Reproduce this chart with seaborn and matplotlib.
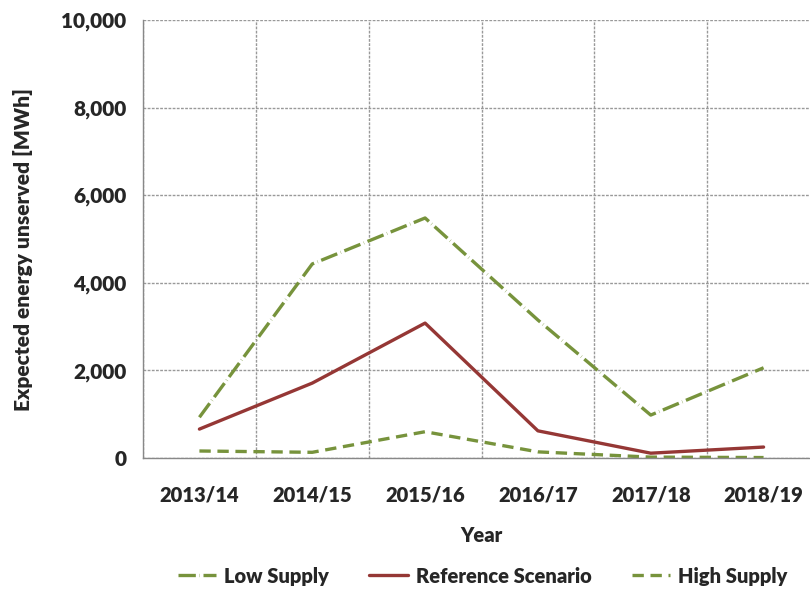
import seaborn as sns
import matplotlib.pyplot as plt
import pandas as pd
from matplotlib.ticker import FuncFormatter, MultipleLocator, FixedLocator

years = ['2013/14', '2014/15', '2015/16', '2016/17', '2017/18', '2018/19']
low_supply = [930, 4430, 5480, 3150, 980, 2060]
reference = [660, 1710, 3080, 620, 110, 250]
high_supply = [160, 130, 600, 140, 20, 10]

series = ['Low Supply', 'Reference Scenario', 'High Supply']
warna = {'Low Supply': '#77933C', 'Reference Scenario': '#953735', 'High Supply': '#77933C'}
garis = {'Low Supply': (5.2, 1.1, 0.1, 1.1), 'Reference Scenario': '', 'High Supply': (3.4, 2.0)}

df = pd.DataFrame({
    'Year': years * 3,
    'Value': low_supply + reference + high_supply,
    'Series': ['Low Supply'] * 6 + ['Reference Scenario'] * 6 + ['High Supply'] * 6,
})

sns.set_style('white')
plt.rcParams['font.family'] = ['Lato', 'DejaVu Sans']
plt.rcParams['font.weight'] = 'heavy'

fig = plt.figure(figsize=(8.1, 5.89), dpi=100)
ax = fig.add_axes([143/810, 1-458/589, (820-143)/810, (458-20)/589])

sns.lineplot(data=df, x='Year', y='Value', hue='Series', style='Series',
             palette=warna, dashes=garis, hue_order=series, style_order=series,
             linewidth=2.4, ax=ax, legend=False, sort=False)

ax.set_xlim(-0.5, 5.5)
ax.set_ylim(0, 10000)

# sumbu x: label di tengah, garis grid di batas kategori
ax.xaxis.set_major_locator(FixedLocator(range(6)))
ax.set_xticklabels(years)
ax.xaxis.set_minor_locator(FixedLocator([i - 0.5 for i in range(7)]))
ax.tick_params(axis='x', which='major', length=0, pad=20, labelsize=14.5)
ax.tick_params(axis='x', which='minor', length=7, color='#888888', width=1, direction='out')

ax.yaxis.set_major_locator(MultipleLocator(2000))
ax.yaxis.set_minor_locator(MultipleLocator(400))
ax.yaxis.set_major_formatter(FuncFormatter(lambda v, p: f'{int(v):,}'))
ax.tick_params(axis='y', which='major', length=7, color='#888888', width=1, direction='out', labelsize=15, pad=5)
ax.tick_params(axis='y', which='minor', length=4, color='#888888', width=1, direction='in')

ax.grid(True, axis='y', which='major', color='#999999', linestyle=(0, (2, 1)), linewidth=1)
ax.grid(True, axis='x', which='minor', color='#999999', linestyle=(0, (2, 1)), linewidth=1)
ax.set_axisbelow(True)

for s in ['top', 'right']:
    ax.spines[s].set_visible(False)
for s in ['left', 'bottom']:
    ax.spines[s].set_color('#888888')
    ax.spines[s].set_linewidth(1)

ax.set_xlabel('Year', fontsize=14.5, fontweight='heavy', labelpad=15)
ax.set_ylabel('Expected energy unserved [MWh]', fontsize=15, fontweight='heavy')
ax.yaxis.set_label_coords(-0.162, 0.475)

handles = [plt.Line2D([], [], color=warna[s], linewidth=2.4,
                      linestyle=(0, garis[s]) if garis[s] else '-') for s in series]
fig.legend(handles, series, loc='center', bbox_to_anchor=(0.596, 0.022), ncol=3,
           frameon=False, fontsize=14.5, handlelength=1.9, columnspacing=2.0, handletextpad=0.4)

fig.savefig('out.png', dpi=100)
